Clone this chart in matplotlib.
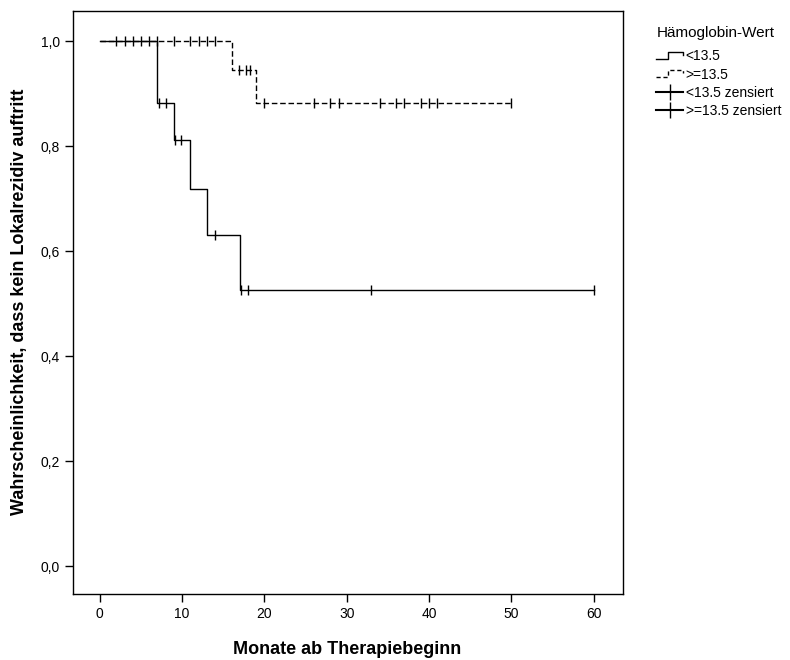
import matplotlib
matplotlib.use('Agg')
import matplotlib.pyplot as plt
import numpy as np
from matplotlib.lines import Line2D
from matplotlib.legend_handler import HandlerBase

plt.rcParams['font.family'] = ['Liberation Sans', 'DejaVu Sans']

# Kaplan-Meier step values
LOW_T = [0, 7, 9, 11, 13, 17, 60]
LOW_S = [1.0, 0.882, 0.811, 0.719, 0.630, 0.525, 0.525]
HIGH_T = [0, 16, 19, 50]
HIGH_S = [1.0, 0.944, 0.882, 0.882]

# censored observations (months)
LOW_CENS = [7.2, 8.0, 9.1, 9.9, 14.0, 17.1, 18.0, 33.0, 60.0]
HIGH_CENS = [2, 3, 4, 5, 6, 7, 9, 11, 12, 13, 14, 16.9, 17.7, 18.2,
             20, 26, 28, 29, 34, 36, 37, 39, 40, 41, 50]

Y_TICKS = [0.0, 0.2, 0.4, 0.6, 0.8, 1.0]
Y_LABELS = ['0,0', '0,2', '0,4', '0,6', '0,8', '1,0']
X_TICKS = [0, 10, 20, 30, 40, 50, 60]


def surv_at(times, surv, t):
    i = np.searchsorted(times, t, side='right') - 1
    return surv[i]


class StepHandler(HandlerBase):
    def __init__(self, dashes=None):
        super().__init__()
        self.dashes = dashes

    def create_artists(self, legend, orig_handle, xdescent, ydescent,
                       width, height, fontsize, trans):
        x0 = -xdescent
        y0 = -ydescent
        xs = [x0, x0 + 0.45 * width, x0 + 0.45 * width, x0 + width, x0 + width]
        ys = [y0 + 0.15 * height, y0 + 0.15 * height, y0 + 0.9 * height,
              y0 + 0.9 * height, y0 + 0.55 * height]
        ln = Line2D(xs, ys, color='black', lw=1.0, transform=trans)
        if self.dashes:
            ln.set_dashes(self.dashes)
        return [ln]


fig = plt.figure(figsize=(7.9, 6.6), dpi=100)
ax = fig.add_axes([0.092, 0.1, 0.696, 0.884])

ax.step(LOW_T, LOW_S, where='post', color='black', lw=1.0)
ax.step(HIGH_T, HIGH_S, where='post', color='black', lw=1.0, dashes=(4, 2))

low_y = [surv_at(LOW_T, LOW_S, t) for t in LOW_CENS]
high_y = [surv_at(HIGH_T, HIGH_S, t) for t in HIGH_CENS]
ax.plot(LOW_CENS, low_y, linestyle='none', marker='|', markersize=7,
        mew=1.0, color='black')
ax.plot(HIGH_CENS, high_y, linestyle='none', marker='|', markersize=7,
        mew=1.0, color='black')

ax.set_xlim(-3.3, 63.5)
ax.set_ylim(-0.053, 1.058)
ax.set_xticks(X_TICKS)
ax.set_yticks(Y_TICKS)
ax.set_yticklabels(Y_LABELS)
ax.tick_params(direction='out', length=6, width=1.0, labelsize=10, pad=3)
for sp in ax.spines.values():
    sp.set_linewidth(1.0)

ax.set_xlabel('Monate ab Therapiebeginn', fontsize=13, fontweight='bold',
              labelpad=15)
ax.set_ylabel('Wahrscheinlichkeit, dass kein Lokalrezidiv auftritt',
              fontsize=13, fontweight='bold', labelpad=9)

h_low = Line2D([], [], color='black')
h_high = Line2D([], [], color='black', linestyle='--')
h_c1 = Line2D([], [], color='black', marker='|', markersize=11, mew=1.0)
h_c2 = Line2D([], [], color='black', marker='|', markersize=11, mew=1.0)

leg = fig.legend([h_low, h_high, h_c1, h_c2],
                 ['<13.5', '>=13.5', '<13.5 zensiert', '>=13.5 zensiert'],
                 title='Hämoglobin-Wert', loc='upper left',
                 bbox_to_anchor=(0.815, 0.98), frameon=False, fontsize=10,
                 title_fontsize=11, handlelength=1.9, handletextpad=0.2,
                 labelspacing=0.3, alignment='left',
                 handler_map={h_low: StepHandler(),
                              h_high: StepHandler(dashes=(3, 2))})
# a bit more room between legend title and entries
leg._legend_box.sep = 7

fig.savefig('out.png', dpi=100)
